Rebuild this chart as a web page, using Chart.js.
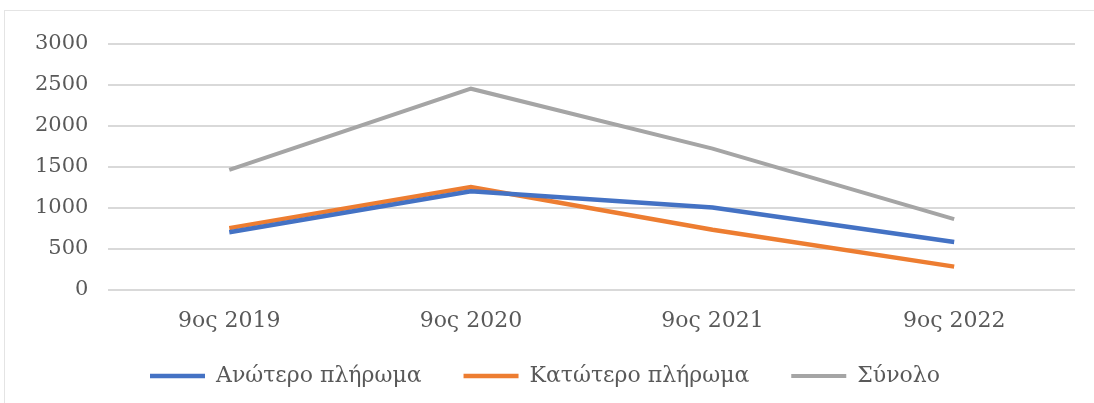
<!DOCTYPE html>
<html>
<head>
<meta charset="utf-8">
<script src="https://cdn.jsdelivr.net/npm/chart.js@4.4.1/dist/chart.umd.min.js"></script>
<style>
  html, body { margin: 0; padding: 0; background: #fff; }
  #wrap { position: absolute; left: 4px; top: 10px; width: 1090px; height: 393px;
          border-left: 1px solid #e4e4e4; border-top: 1px solid #e4e4e4; }
</style>
</head>
<body>
<div id="wrap"><canvas id="c" width="1090" height="393"></canvas></div>
<script>
// κατηγορίες και τιμές
var periods = ['9ος 2019', '9ος 2020', '9ος 2021', '9ος 2022'];
var seriesNames = ['Ανώτερο πλήρωμα', 'Κατώτερο πλήρωμα', 'Σύνολο'];
var anotero = [700, 1200, 1000, 580];
var katotero = [750, 1250, 730, 280];
var synolo = [1460, 2450, 1720, 860];
var yTicks = [0, 500, 1000, 1500, 2000, 2500, 3000];

var colors = ['#4472C4', '#ED7D31', '#A5A5A5'];
var values = [anotero, katotero, synolo];

var ds = seriesNames.map(function (name, i) {
    return {
        label: name,
        data: values[i],
        borderColor: colors[i],
        backgroundColor: colors[i],
        borderWidth: i == 2 ? 4 : 4.5,
        pointRadius: 0,
        tension: 0
    };
});

var chart = new Chart(document.getElementById('c'), {
    type: 'line',
    data: { labels: periods, datasets: ds },
    options: {
        responsive: false,
        animation: false,
        layout: { padding: { top: 19, right: 20, left: 10, bottom: 7 } },
        scales: {
            x: {
                offset: true,
                grid: { display: false },
                border: { display: false },
                ticks: { color: '#595959', font: { family: 'DejaVu Serif', size: 22 }, padding: 10 }
            },
            y: {
                min: 0, max: 3000,
                afterBuildTicks: function (axis) {
                    axis.ticks = yTicks.map(function (v) { return { value: v }; });
                },
                grid: { color: '#d9d9d9', lineWidth: 2, drawTicks: false },
                border: { display: false },
                ticks: {
                    color: '#595959',
                    font: { family: 'DejaVu Serif', size: 21 },
                    padding: 20,
                    callback: function (v) { return String(v); }
                }
            }
        },
        plugins: {
            title: { display: false },
            tooltip: { enabled: false },
            legend: {
                position: 'bottom',
                labels: {
                    usePointStyle: true,
                    pointStyle: 'line',
                    pointStyleWidth: 55,
                    color: '#595959',
                    font: { family: 'DejaVu Serif', size: 22 },
                    padding: 21,
                    // κενά μετά το κείμενο για απόσταση ανάμεσα στα στοιχεία
                    generateLabels: function (ch) {
                        var items = Chart.defaults.plugins.legend.labels.generateLabels(ch);
                        items.forEach(function (it, i) {
                            if (i < items.length - 1) it.text = it.text + '   ';
                        });
                        return items;
                    }
                }
            }
        }
    }
});
</script>
</body>
</html>
